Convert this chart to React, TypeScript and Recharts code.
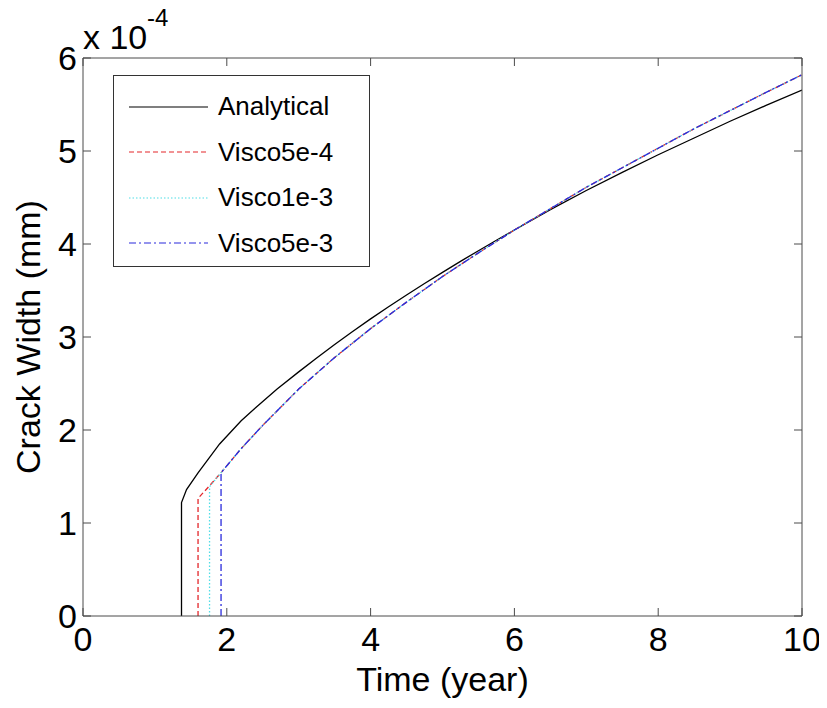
import React from 'react';
import { LineChart, Line, XAxis, YAxis, Legend } from 'recharts';

// ---- data (crack width in units of 1e-4 mm, time in years) ----
const analytical = [
  { t: 1.37, w: 0 }, { t: 1.37, w: 1.22 }, { t: 1.44, w: 1.36 }, { t: 1.6, w: 1.54 },
  { t: 1.9, w: 1.85 }, { t: 2.2, w: 2.1 }, { t: 2.46, w: 2.28 }, { t: 2.7, w: 2.44 },
  { t: 3.0, w: 2.625 }, { t: 3.25, w: 2.775 }, { t: 3.5, w: 2.92 }, { t: 3.75, w: 3.06 },
  { t: 4.0, w: 3.195 }, { t: 4.25, w: 3.325 }, { t: 4.5, w: 3.452 }, { t: 4.75, w: 3.575 },
  { t: 5.0, w: 3.695 }, { t: 5.25, w: 3.813 }, { t: 5.5, w: 3.928 }, { t: 5.75, w: 4.04 },
  { t: 6.0, w: 4.15 }, { t: 6.5, w: 4.37 }, { t: 7.0, w: 4.575 }, { t: 7.5, w: 4.77 },
  { t: 8.0, w: 4.96 }, { t: 8.5, w: 5.14 }, { t: 9.0, w: 5.32 }, { t: 9.5, w: 5.49 },
  { t: 10.0, w: 5.656 },
];
const viscoTail = [
  { t: 2.2, w: 1.8 }, { t: 2.5, w: 2.05 }, { t: 3.0, w: 2.44 }, { t: 3.5, w: 2.78 },
  { t: 4.0, w: 3.09 }, { t: 4.5, w: 3.375 }, { t: 5.0, w: 3.65 }, { t: 5.5, w: 3.905 },
  { t: 6.0, w: 4.15 }, { t: 6.5, w: 4.38 }, { t: 7.0, w: 4.61 }, { t: 7.5, w: 4.82 },
  { t: 8.0, w: 5.03 }, { t: 8.5, w: 5.24 }, { t: 9.0, w: 5.435 }, { t: 9.5, w: 5.63 },
  { t: 10.0, w: 5.82 },
];
const visco5e4 = [
  { t: 1.6, w: 0 }, { t: 1.6, w: 1.265 }, { t: 1.76, w: 1.4 }, { t: 1.93, w: 1.55 }, ...viscoTail,
];
const visco1e3 = [
  { t: 1.76, w: 0 }, { t: 1.76, w: 1.39 }, { t: 1.93, w: 1.55 }, ...viscoTail,
];
const visco5e3 = [
  { t: 1.92, w: 0 }, { t: 1.92, w: 1.545 }, { t: 1.93, w: 1.55 }, ...viscoTail,
];

const xTicks = [0, 2, 4, 6, 8, 10];
const yTicks = [0, 1, 2, 3, 4, 5, 6];

const seriesNames = ['Analytical', 'Visco5e-4', 'Visco1e-3', 'Visco5e-3'];
const seriesColors = ['#000000', '#e3262b', '#4fdde6', '#2b2bdc'];
const seriesDash = ['', '5 3', '1.5 2', '7 3 2 3'];
const seriesData = [analytical, visco5e4, visco1e3, visco5e3];

const FONT = '"Liberation Sans", Arial, Helvetica, sans-serif';
const AXIS = '#4a4a4a';
const TM = 10;
const TL = 8;

const BottomTick = (p: any) => (
  <g>
    <line x1={p.x} x2={p.x} y1={p.y - TM} y2={p.y - TM - TL} stroke={AXIS} strokeWidth={1} />
    <text x={p.x} y={p.y + 25} textAnchor="middle" fontSize={34} fontFamily={FONT} fill="#000">
      {p.payload.value}
    </text>
  </g>
);
const LeftTick = (p: any) => (
  <g>
    <line x1={p.x + TM} x2={p.x + TM + TL} y1={p.y} y2={p.y} stroke={AXIS} strokeWidth={1} />
    <text x={p.x + 4} y={p.y + 12} textAnchor="end" fontSize={34} fontFamily={FONT} fill="#000">
      {p.payload.value}
    </text>
  </g>
);
const TopTick = (p: any) => (
  <line x1={p.x} x2={p.x} y1={p.y + TM} y2={p.y + TM + TL} stroke={AXIS} strokeWidth={1} />
);
const RightTick = (p: any) => (
  <line x1={p.x - TM} x2={p.x - TM - TL} y1={p.y} y2={p.y} stroke={AXIS} strokeWidth={1} />
);

const XLabel = (p: any) => {
  const vb = p.viewBox;
  return (
    <text x={vb.x + vb.width / 2} y={vb.y + 75} textAnchor="middle" fontSize={34} fontFamily={FONT} fill="#000">
      Time (year)
    </text>
  );
};
const YLabel = (p: any) => {
  const vb = p.viewBox;
  const cx = 32;
  const cy = vb.y + vb.height / 2;
  return (
    <text x={cx} y={cy} transform={`rotate(-90 ${cx} ${cy})`} textAnchor="middle" fontSize={34} fontFamily={FONT} fill="#000">
      Crack Width (mm)
    </text>
  );
};

const LegendBox = () => (
  <div
    style={{
      border: '1px solid #333',
      background: '#fff',
      width: 257,
      height: 192,
      boxSizing: 'border-box',
      paddingTop: 8,
      fontFamily: FONT,
      fontSize: 26,
    }}
  >
    {seriesNames.map((n, i) => (
      <div key={n} style={{ display: 'flex', alignItems: 'center', height: 45.5 }}>
        <svg width={104} height={10} style={{ flex: 'none' }}>
          <line x1={15} x2={94} y1={5} y2={5} stroke={seriesColors[i]} strokeWidth={1.2} strokeDasharray={seriesDash[i] || undefined} />
        </svg>
        <span style={{ color: '#000' }}>{n}</span>
      </div>
    ))}
  </div>
);

export default function App() {
  return (
    <div style={{ position: 'relative', width: 819, height: 692, background: '#fff' }}>
      <LineChart width={819} height={692} margin={{ top: 49, right: 24, bottom: 0, left: 0 }}>
        <XAxis
          xAxisId="b"
          dataKey="t"
          type="number"
          domain={[0, 10]}
          ticks={xTicks}
          allowDataOverflow
          height={84}
          tickSize={0}
          tickMargin={TM}
          tick={<BottomTick />}
          axisLine={{ stroke: AXIS }}
          label={<XLabel />}
        />
        <XAxis
          xAxisId="t"
          orientation="top"
          dataKey="t"
          type="number"
          domain={[0, 10]}
          ticks={xTicks}
          allowDataOverflow
          height={1}
          tickSize={0}
          tickMargin={TM}
          tick={<TopTick />}
          axisLine={{ stroke: AXIS }}
        />
        <YAxis
          yAxisId="l"
          dataKey="w"
          type="number"
          domain={[0, 6]}
          ticks={yTicks}
          allowDataOverflow
          width={75}
          tickSize={0}
          tickMargin={TM}
          tick={<LeftTick />}
          axisLine={{ stroke: AXIS }}
          label={<YLabel />}
        />
        <YAxis
          yAxisId="r"
          orientation="right"
          dataKey="w"
          type="number"
          domain={[0, 6]}
          ticks={yTicks}
          allowDataOverflow
          width={1}
          tickSize={0}
          tickMargin={TM}
          tick={<RightTick />}
          axisLine={{ stroke: AXIS }}
        />
        <Line
          xAxisId="t"
          yAxisId="r"
          data={analytical}
          dataKey="w"
          stroke="none"
          dot={false}
          legendType="none"
          isAnimationActive={false}
        />
        {seriesData.map((d, i) => (
          <Line
            key={seriesNames[i]}
            xAxisId="b"
            yAxisId="l"
            data={d}
            dataKey="w"
            name={seriesNames[i]}
            type="linear"
            stroke={seriesColors[i]}
            strokeWidth={1.3}
            strokeDasharray={seriesDash[i] || undefined}
            dot={false}
            activeDot={false}
            isAnimationActive={false}
          />
        ))}
        <Legend
          layout="vertical"
          align="center"
          verticalAlign="middle"
          content={<LegendBox />}
          wrapperStyle={{ left: 105, top: 67, width: 257, height: 192 }}
        />
      </LineChart>
      <div
        style={{
          position: 'absolute',
          left: 75,
          top: 0,
          fontFamily: FONT,
          color: '#000',
          whiteSpace: 'nowrap',
          pointerEvents: 'none',
        }}
      >
        <span style={{ position: 'absolute', left: 0, top: 12, fontSize: 34, lineHeight: '34px' }}>x 10</span>
        <span style={{ position: 'absolute', left: 64, top: -2, fontSize: 24, lineHeight: '24px' }}>-4</span>
      </div>
    </div>
  );
}
